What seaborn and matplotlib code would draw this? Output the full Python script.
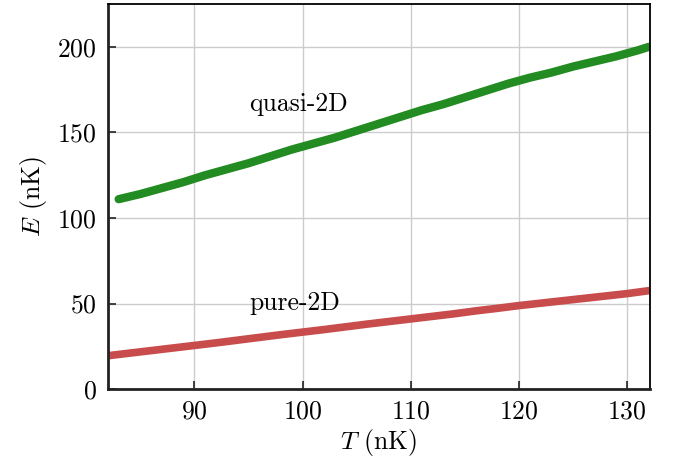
import matplotlib
import matplotlib.pyplot as plt
import pandas as pd
import seaborn as sns

matplotlib.use("Agg")

# values
T_quasi = [83, 85, 87, 89, 91, 93, 95, 97, 99, 101, 103, 105, 107, 109, 111, 113,
           115, 117, 119, 121, 123, 125, 127, 129, 131, 132]
E_quasi = [111, 114, 117.5, 121, 125, 128.5, 132, 136, 140, 143.5, 147, 151, 155, 159,
           163, 166.5, 170.5, 174.5, 178.5, 182, 185, 188.5, 191.5, 194.5, 198, 200]
T_pure = [82, 84, 86, 88, 90, 92, 94, 96, 98, 100, 102, 104, 106, 108, 110, 112, 114,
          116, 118, 120, 122, 124, 126, 128, 130, 132]
E_pure = [19.5, 21, 22.5, 24, 25.5, 27, 28.6, 30.2, 31.8, 33.3, 34.8, 36.4, 38, 39.5,
          41, 42.5, 44, 45.7, 47.2, 48.8, 50.2, 51.6, 53, 54.4, 55.8, 57.5]

sns.set_theme(style="ticks", rc={'axes.grid': True, 'grid.color': '#cccccc', 'grid.linewidth': 1.0,
                                 'text.color': 'black', 'axes.labelcolor': 'black'})
plt.rcParams['font.family'] = ['cmr10', 'DejaVu Sans']
plt.rcParams['mathtext.fontset'] = 'cm'
plt.rcParams['axes.formatter.use_mathtext'] = True

df = pd.concat([
    pd.DataFrame({"T": T_quasi, "E": E_quasi, "kind": "quasi-2D"}),
    pd.DataFrame({"T": T_pure, "E": E_pure, "kind": "pure-2D"}),
])

fig = plt.figure(figsize=(6.74, 4.61), dpi=100)
ax = fig.add_axes([0.160, 0.156, 0.804, 0.835])
sns.lineplot(data=df, x="T", y="E", hue="kind",
             palette={"quasi-2D": "#228b22", "pure-2D": "#c94c4c"},
             lw=5.5, solid_capstyle="round", legend=False, ax=ax)
ax.lines[0].set_linewidth(6)

ax.set_xlim(82, 132.1)
ax.set_ylim(0, 225)
ax.set_xticks([90, 100, 110, 120, 130])
ax.set_yticks([0, 50, 100, 150, 200])
ax.tick_params(direction="in", length=6, width=1.2, labelsize=18.5, colors="#222222",
               labelcolor="black", pad=8)
ax.set_xlabel("$T$ (nK)", fontsize=18.5, labelpad=2, color="black")
ax.set_ylabel("$E$ (nK)", fontsize=18.5, labelpad=6, color="black")

for s in ["left", "bottom"]:
    ax.spines[s].set_linewidth(2)
    ax.spines[s].set_color("#222222")
for s in ["top", "right"]:
    ax.spines[s].set_linewidth(1.3)
    ax.spines[s].set_color("black")

ax.text(95.05, 166.5, "quasi-2D", fontsize=18.5, va="center", color="black")
ax.text(95.05, 50.5, "pure-2D", fontsize=18.5, va="center", color="black")

fig.savefig("out.png", dpi=100)
